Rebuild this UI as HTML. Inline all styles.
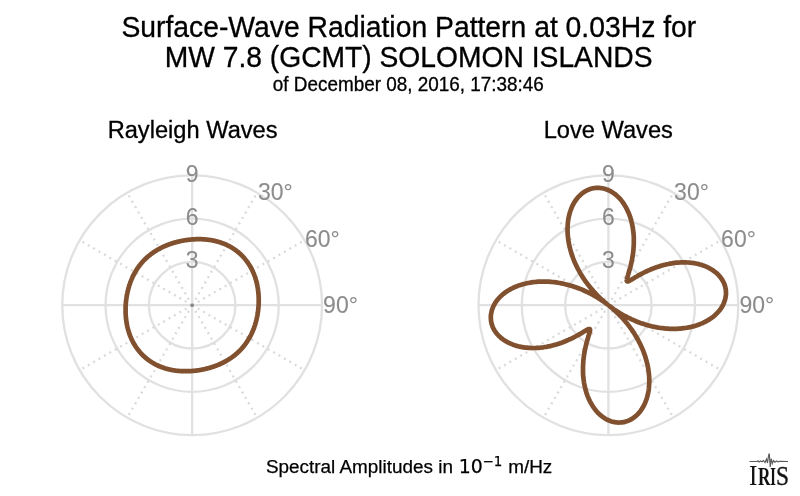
<!DOCTYPE html>
<html><head><meta charset="utf-8"><title>Surface-Wave Radiation Pattern</title>
<style>html,body{margin:0;padding:0;background:#fff}svg{display:block}</style></head>
<body>
<svg width="800" height="496" viewBox="0 0 800 496" font-family="'Liberation Sans', sans-serif">
<rect width="800" height="496" fill="#fff"/>
<g fill="#000" text-anchor="middle" stroke="#000" stroke-width="0.3">
<text transform="translate(408.8 36.5) scale(1 1.03)" font-size="28.32px">Surface-Wave Radiation Pattern at 0.03Hz for</text>
<text transform="translate(408.6 66.7) scale(1 1.045)" font-size="28.25px">MW 7.8 (GCMT) SOLOMON ISLANDS</text>
<text transform="translate(408.3 91.1) scale(1 1.03)" font-size="18.9px">of December 08, 2016, 17:38:46</text>
<text transform="translate(192.6 137.6) scale(1 1.03)" font-size="23.65px">Rayleigh Waves</text>
<text transform="translate(608.3 137.6) scale(1 1.03)" font-size="23.65px">Love Waves</text>
</g>
<g fill="none" stroke="#e1e1e1" stroke-width="2.3">
<circle cx="192.15" cy="305.2" r="43.30"/>
<circle cx="192.15" cy="305.2" r="86.60"/>
<circle cx="192.15" cy="305.2" r="129.90"/>
<line x1="192.15" y1="305.2" x2="192.15" y2="175.30"/>
<line x1="192.15" y1="305.2" x2="322.05" y2="305.20"/>
<line x1="192.15" y1="305.2" x2="192.15" y2="435.10"/>
<line x1="192.15" y1="305.2" x2="62.25" y2="305.20"/>
</g>
<g fill="none" stroke="#dadada" stroke-width="2.3" stroke-dasharray="2 4.22" stroke-dashoffset="-0.3">
<line x1="192.15" y1="305.2" x2="257.10" y2="192.70"/>
<line x1="192.15" y1="305.2" x2="304.65" y2="240.25"/>
<line x1="192.15" y1="305.2" x2="304.65" y2="370.15"/>
<line x1="192.15" y1="305.2" x2="257.10" y2="417.70"/>
<line x1="192.15" y1="305.2" x2="127.20" y2="417.70"/>
<line x1="192.15" y1="305.2" x2="79.65" y2="370.15"/>
<line x1="192.15" y1="305.2" x2="79.65" y2="240.25"/>
<line x1="192.15" y1="305.2" x2="127.20" y2="192.70"/>
</g>
<circle cx="192.15" cy="305.2" r="1.8" fill="#858585"/>
<g fill="none" stroke="#e1e1e1" stroke-width="2.3">
<circle cx="608.4" cy="305.2" r="43.30"/>
<circle cx="608.4" cy="305.2" r="86.60"/>
<circle cx="608.4" cy="305.2" r="129.90"/>
<line x1="608.4" y1="305.2" x2="608.40" y2="175.30"/>
<line x1="608.4" y1="305.2" x2="738.30" y2="305.20"/>
<line x1="608.4" y1="305.2" x2="608.40" y2="435.10"/>
<line x1="608.4" y1="305.2" x2="478.50" y2="305.20"/>
</g>
<g fill="none" stroke="#dadada" stroke-width="2.3" stroke-dasharray="2 4.22" stroke-dashoffset="-0.3">
<line x1="608.4" y1="305.2" x2="673.35" y2="192.70"/>
<line x1="608.4" y1="305.2" x2="720.90" y2="240.25"/>
<line x1="608.4" y1="305.2" x2="720.90" y2="370.15"/>
<line x1="608.4" y1="305.2" x2="673.35" y2="417.70"/>
<line x1="608.4" y1="305.2" x2="543.45" y2="417.70"/>
<line x1="608.4" y1="305.2" x2="495.90" y2="370.15"/>
<line x1="608.4" y1="305.2" x2="495.90" y2="240.25"/>
<line x1="608.4" y1="305.2" x2="543.45" y2="192.70"/>
</g>
<circle cx="608.4" cy="305.2" r="1.8" fill="#858585"/>
<path d="M192.2,239.4 L192.7,239.4 L193.3,239.3 L193.9,239.3 L194.5,239.3 L195.0,239.3 L195.6,239.2 L196.2,239.2 L196.8,239.2 L197.3,239.2 L197.9,239.2 L198.5,239.2 L199.1,239.2 L199.7,239.2 L200.3,239.2 L200.8,239.2 L201.4,239.2 L202.0,239.2 L202.6,239.3 L203.2,239.3 L203.8,239.3 L204.4,239.4 L204.9,239.4 L205.5,239.5 L206.1,239.5 L206.7,239.6 L207.3,239.6 L207.9,239.7 L208.5,239.8 L209.0,239.9 L209.6,239.9 L210.2,240.0 L210.8,240.1 L211.4,240.2 L212.0,240.3 L212.6,240.4 L213.2,240.5 L213.7,240.7 L214.3,240.8 L214.9,240.9 L215.5,241.1 L216.1,241.2 L216.7,241.4 L217.2,241.5 L217.8,241.7 L218.4,241.8 L219.0,242.0 L219.6,242.2 L220.1,242.4 L220.7,242.6 L221.3,242.8 L221.8,243.0 L222.4,243.2 L223.0,243.4 L223.5,243.6 L224.1,243.8 L224.7,244.0 L225.2,244.3 L225.8,244.5 L226.3,244.8 L226.9,245.0 L227.4,245.3 L228.0,245.6 L228.5,245.8 L229.1,246.1 L229.6,246.4 L230.1,246.7 L230.7,247.0 L231.2,247.3 L231.7,247.6 L232.2,247.9 L232.8,248.3 L233.3,248.6 L233.8,248.9 L234.3,249.3 L234.8,249.6 L235.3,250.0 L235.8,250.3 L236.3,250.7 L236.8,251.1 L237.3,251.4 L237.7,251.8 L238.2,252.2 L238.7,252.6 L239.2,253.0 L239.6,253.4 L240.1,253.8 L240.5,254.2 L241.0,254.6 L241.4,255.1 L241.8,255.5 L242.3,255.9 L242.7,256.4 L243.1,256.8 L243.5,257.3 L243.9,257.7 L244.4,258.2 L244.8,258.7 L245.1,259.1 L245.5,259.6 L245.9,260.1 L246.3,260.6 L246.7,261.1 L247.0,261.5 L247.4,262.0 L247.7,262.5 L248.1,263.0 L248.4,263.5 L248.8,264.1 L249.1,264.6 L249.4,265.1 L249.7,265.6 L250.1,266.1 L250.4,266.7 L250.7,267.2 L251.0,267.7 L251.3,268.3 L251.5,268.8 L251.8,269.3 L252.1,269.9 L252.4,270.4 L252.6,271.0 L252.9,271.5 L253.1,272.1 L253.4,272.7 L253.6,273.2 L253.8,273.8 L254.1,274.3 L254.3,274.9 L254.5,275.5 L254.7,276.0 L254.9,276.6 L255.1,277.2 L255.3,277.7 L255.5,278.3 L255.6,278.9 L255.8,279.5 L256.0,280.1 L256.2,280.6 L256.3,281.2 L256.5,281.8 L256.6,282.4 L256.8,283.0 L256.9,283.5 L257.0,284.1 L257.1,284.7 L257.3,285.3 L257.4,285.9 L257.5,286.5 L257.6,287.1 L257.7,287.6 L257.8,288.2 L257.9,288.8 L258.0,289.4 L258.0,290.0 L258.1,290.6 L258.2,291.2 L258.3,291.7 L258.3,292.3 L258.4,292.9 L258.4,293.5 L258.5,294.1 L258.5,294.7 L258.6,295.3 L258.6,295.9 L258.6,296.4 L258.7,297.0 L258.7,297.6 L258.7,298.2 L258.7,298.8 L258.7,299.4 L258.7,300.0 L258.7,300.5 L258.7,301.1 L258.7,301.7 L258.7,302.3 L258.7,302.9 L258.7,303.5 L258.7,304.0 L258.6,304.6 L258.6,305.2 L258.6,305.8 L258.5,306.4 L258.5,306.9 L258.4,307.5 L258.4,308.1 L258.3,308.7 L258.3,309.2 L258.2,309.8 L258.1,310.4 L258.1,311.0 L258.0,311.5 L257.9,312.1 L257.8,312.7 L257.7,313.3 L257.6,313.8 L257.6,314.4 L257.5,315.0 L257.3,315.5 L257.2,316.1 L257.1,316.7 L257.0,317.2 L256.9,317.8 L256.8,318.3 L256.6,318.9 L256.5,319.5 L256.4,320.0 L256.2,320.6 L256.1,321.1 L256.0,321.7 L255.8,322.3 L255.6,322.8 L255.5,323.4 L255.3,323.9 L255.2,324.5 L255.0,325.0 L254.8,325.6 L254.6,326.1 L254.4,326.6 L254.2,327.2 L254.1,327.7 L253.9,328.3 L253.7,328.8 L253.4,329.3 L253.2,329.9 L253.0,330.4 L252.8,330.9 L252.6,331.5 L252.3,332.0 L252.1,332.5 L251.9,333.0 L251.6,333.6 L251.4,334.1 L251.1,334.6 L250.9,335.1 L250.6,335.6 L250.3,336.1 L250.1,336.6 L249.8,337.2 L249.5,337.7 L249.2,338.2 L248.9,338.7 L248.6,339.1 L248.4,339.6 L248.0,340.1 L247.7,340.6 L247.4,341.1 L247.1,341.6 L246.8,342.1 L246.5,342.5 L246.1,343.0 L245.8,343.5 L245.5,343.9 L245.1,344.4 L244.8,344.9 L244.4,345.3 L244.1,345.8 L243.7,346.2 L243.4,346.7 L243.0,347.1 L242.6,347.5 L242.2,348.0 L241.9,348.4 L241.5,348.8 L241.1,349.3 L240.7,349.7 L240.3,350.1 L239.9,350.5 L239.5,350.9 L239.1,351.3 L238.7,351.7 L238.2,352.1 L237.8,352.5 L237.4,352.9 L237.0,353.3 L236.5,353.7 L236.1,354.0 L235.7,354.4 L235.2,354.8 L234.8,355.1 L234.3,355.5 L233.9,355.8 L233.4,356.2 L233.0,356.5 L232.5,356.9 L232.1,357.2 L231.6,357.5 L231.1,357.9 L230.7,358.2 L230.2,358.5 L229.7,358.8 L229.2,359.1 L228.7,359.4 L228.3,359.7 L227.8,360.0 L227.3,360.3 L226.8,360.6 L226.3,360.9 L225.8,361.2 L225.3,361.5 L224.8,361.7 L224.3,362.0 L223.8,362.3 L223.3,362.5 L222.8,362.8 L222.3,363.0 L221.7,363.3 L221.2,363.5 L220.7,363.8 L220.2,364.0 L219.7,364.2 L219.2,364.5 L218.6,364.7 L218.1,364.9 L217.6,365.1 L217.1,365.3 L216.5,365.5 L216.0,365.7 L215.5,365.9 L214.9,366.1 L214.4,366.3 L213.9,366.5 L213.3,366.7 L212.8,366.9 L212.2,367.0 L211.7,367.2 L211.2,367.4 L210.6,367.5 L210.1,367.7 L209.5,367.9 L209.0,368.0 L208.4,368.2 L207.9,368.3 L207.3,368.4 L206.8,368.6 L206.2,368.7 L205.7,368.9 L205.1,369.0 L204.6,369.1 L204.0,369.2 L203.5,369.3 L202.9,369.5 L202.3,369.6 L201.8,369.7 L201.2,369.8 L200.7,369.9 L200.1,370.0 L199.5,370.1 L199.0,370.2 L198.4,370.3 L197.8,370.3 L197.3,370.4 L196.7,370.5 L196.1,370.6 L195.6,370.6 L195.0,370.7 L194.4,370.8 L193.9,370.8 L193.3,370.9 L192.7,370.9 L192.2,371.0 L191.6,371.0 L191.0,371.1 L190.4,371.1 L189.8,371.1 L189.3,371.1 L188.7,371.2 L188.1,371.2 L187.5,371.2 L187.0,371.2 L186.4,371.2 L185.8,371.2 L185.2,371.2 L184.6,371.2 L184.0,371.2 L183.5,371.2 L182.9,371.2 L182.3,371.2 L181.7,371.1 L181.1,371.1 L180.5,371.1 L179.9,371.0 L179.4,371.0 L178.8,370.9 L178.2,370.9 L177.6,370.8 L177.0,370.8 L176.4,370.7 L175.8,370.6 L175.3,370.5 L174.7,370.5 L174.1,370.4 L173.5,370.3 L172.9,370.2 L172.3,370.1 L171.7,370.0 L171.1,369.9 L170.6,369.7 L170.0,369.6 L169.4,369.5 L168.8,369.3 L168.2,369.2 L167.6,369.0 L167.1,368.9 L166.5,368.7 L165.9,368.6 L165.3,368.4 L164.7,368.2 L164.2,368.0 L163.6,367.8 L163.0,367.6 L162.5,367.4 L161.9,367.2 L161.3,367.0 L160.8,366.8 L160.2,366.6 L159.6,366.4 L159.1,366.1 L158.5,365.9 L158.0,365.6 L157.4,365.4 L156.9,365.1 L156.3,364.8 L155.8,364.6 L155.2,364.3 L154.7,364.0 L154.2,363.7 L153.6,363.4 L153.1,363.1 L152.6,362.8 L152.1,362.5 L151.5,362.1 L151.0,361.8 L150.5,361.5 L150.0,361.1 L149.5,360.8 L149.0,360.4 L148.5,360.1 L148.0,359.7 L147.5,359.3 L147.0,359.0 L146.6,358.6 L146.1,358.2 L145.6,357.8 L145.1,357.4 L144.7,357.0 L144.2,356.6 L143.8,356.2 L143.3,355.8 L142.9,355.3 L142.5,354.9 L142.0,354.5 L141.6,354.0 L141.2,353.6 L140.8,353.1 L140.4,352.7 L139.9,352.2 L139.5,351.7 L139.2,351.3 L138.8,350.8 L138.4,350.3 L138.0,349.8 L137.6,349.3 L137.3,348.9 L136.9,348.4 L136.6,347.9 L136.2,347.4 L135.9,346.9 L135.5,346.3 L135.2,345.8 L134.9,345.3 L134.6,344.8 L134.2,344.3 L133.9,343.7 L133.6,343.2 L133.3,342.7 L133.0,342.1 L132.8,341.6 L132.5,341.1 L132.2,340.5 L131.9,340.0 L131.7,339.4 L131.4,338.9 L131.2,338.3 L130.9,337.7 L130.7,337.2 L130.5,336.6 L130.2,336.1 L130.0,335.5 L129.8,334.9 L129.6,334.4 L129.4,333.8 L129.2,333.2 L129.0,332.7 L128.8,332.1 L128.7,331.5 L128.5,330.9 L128.3,330.3 L128.1,329.8 L128.0,329.2 L127.8,328.6 L127.7,328.0 L127.5,327.4 L127.4,326.9 L127.3,326.3 L127.2,325.7 L127.0,325.1 L126.9,324.5 L126.8,323.9 L126.7,323.3 L126.6,322.8 L126.5,322.2 L126.4,321.6 L126.3,321.0 L126.3,320.4 L126.2,319.8 L126.1,319.2 L126.0,318.7 L126.0,318.1 L125.9,317.5 L125.9,316.9 L125.8,316.3 L125.8,315.7 L125.7,315.1 L125.7,314.5 L125.7,314.0 L125.6,313.4 L125.6,312.8 L125.6,312.2 L125.6,311.6 L125.6,311.0 L125.6,310.4 L125.6,309.9 L125.6,309.3 L125.6,308.7 L125.6,308.1 L125.6,307.5 L125.6,306.9 L125.6,306.4 L125.7,305.8 L125.7,305.2 L125.7,304.6 L125.8,304.0 L125.8,303.5 L125.9,302.9 L125.9,302.3 L126.0,301.7 L126.0,301.2 L126.1,300.6 L126.2,300.0 L126.2,299.4 L126.3,298.9 L126.4,298.3 L126.5,297.7 L126.6,297.1 L126.7,296.6 L126.7,296.0 L126.8,295.4 L127.0,294.9 L127.1,294.3 L127.2,293.7 L127.3,293.2 L127.4,292.6 L127.5,292.1 L127.7,291.5 L127.8,290.9 L127.9,290.4 L128.1,289.8 L128.2,289.3 L128.3,288.7 L128.5,288.1 L128.7,287.6 L128.8,287.0 L129.0,286.5 L129.1,285.9 L129.3,285.4 L129.5,284.8 L129.7,284.3 L129.9,283.8 L130.1,283.2 L130.2,282.7 L130.4,282.1 L130.6,281.6 L130.9,281.1 L131.1,280.5 L131.3,280.0 L131.5,279.5 L131.7,278.9 L132.0,278.4 L132.2,277.9 L132.4,277.4 L132.7,276.8 L132.9,276.3 L133.2,275.8 L133.4,275.3 L133.7,274.8 L134.0,274.3 L134.2,273.8 L134.5,273.2 L134.8,272.7 L135.1,272.2 L135.4,271.7 L135.7,271.3 L135.9,270.8 L136.3,270.3 L136.6,269.8 L136.9,269.3 L137.2,268.8 L137.5,268.3 L137.8,267.9 L138.2,267.4 L138.5,266.9 L138.8,266.5 L139.2,266.0 L139.5,265.5 L139.9,265.1 L140.2,264.6 L140.6,264.2 L140.9,263.7 L141.3,263.3 L141.7,262.9 L142.1,262.4 L142.4,262.0 L142.8,261.6 L143.2,261.1 L143.6,260.7 L144.0,260.3 L144.4,259.9 L144.8,259.5 L145.2,259.1 L145.6,258.7 L146.1,258.3 L146.5,257.9 L146.9,257.5 L147.3,257.1 L147.8,256.7 L148.2,256.4 L148.6,256.0 L149.1,255.6 L149.5,255.3 L150.0,254.9 L150.4,254.6 L150.9,254.2 L151.3,253.9 L151.8,253.5 L152.2,253.2 L152.7,252.9 L153.2,252.5 L153.6,252.2 L154.1,251.9 L154.6,251.6 L155.1,251.3 L155.6,251.0 L156.0,250.7 L156.5,250.4 L157.0,250.1 L157.5,249.8 L158.0,249.5 L158.5,249.2 L159.0,248.9 L159.5,248.7 L160.0,248.4 L160.5,248.1 L161.0,247.9 L161.5,247.6 L162.0,247.4 L162.6,247.1 L163.1,246.9 L163.6,246.6 L164.1,246.4 L164.6,246.2 L165.1,245.9 L165.7,245.7 L166.2,245.5 L166.7,245.3 L167.2,245.1 L167.8,244.9 L168.3,244.7 L168.8,244.5 L169.4,244.3 L169.9,244.1 L170.4,243.9 L171.0,243.7 L171.5,243.5 L172.1,243.4 L172.6,243.2 L173.1,243.0 L173.7,242.9 L174.2,242.7 L174.8,242.5 L175.3,242.4 L175.9,242.2 L176.4,242.1 L177.0,242.0 L177.5,241.8 L178.1,241.7 L178.6,241.5 L179.2,241.4 L179.7,241.3 L180.3,241.2 L180.8,241.1 L181.4,240.9 L182.0,240.8 L182.5,240.7 L183.1,240.6 L183.6,240.5 L184.2,240.4 L184.8,240.3 L185.3,240.2 L185.9,240.1 L186.5,240.1 L187.0,240.0 L187.6,239.9 L188.2,239.8 L188.7,239.8 L189.3,239.7 L189.9,239.6 L190.4,239.6 L191.0,239.5 L191.6,239.5Z" fill="none" stroke="#80502f" stroke-width="4.7" stroke-linejoin="round"/>
<path d="M608.4,190.2 L609.4,190.6 L610.4,191.1 L611.4,191.7 L612.3,192.3 L613.3,192.9 L614.2,193.6 L615.2,194.3 L616.1,195.1 L617.0,195.8 L617.9,196.7 L618.8,197.5 L619.6,198.4 L620.5,199.4 L621.3,200.4 L622.1,201.4 L622.8,202.4 L623.6,203.5 L624.3,204.6 L625.0,205.8 L625.7,206.9 L626.4,208.2 L627.0,209.4 L627.6,210.7 L628.2,212.0 L628.8,213.3 L629.3,214.6 L629.8,216.0 L630.3,217.4 L630.7,218.8 L631.2,220.3 L631.5,221.8 L631.9,223.2 L632.2,224.8 L632.5,226.3 L632.8,227.8 L633.0,229.4 L633.2,230.9 L633.4,232.5 L633.6,234.1 L633.7,235.7 L633.8,237.3 L633.8,239.0 L633.8,240.6 L633.8,242.2 L633.8,243.9 L633.7,245.5 L633.6,247.1 L633.5,248.8 L633.4,250.4 L633.2,252.0 L633.0,253.6 L632.8,255.2 L632.5,256.8 L632.2,258.4 L632.0,260.0 L631.6,261.5 L631.3,263.0 L631.0,264.5 L630.6,265.9 L630.3,267.3 L629.9,268.7 L629.5,270.1 L629.1,271.3 L628.8,272.6 L628.4,273.8 L628.1,274.9 L627.8,275.9 L627.5,276.9 L627.2,277.8 L627.0,278.6 L626.9,279.3 L626.8,279.9 L626.7,280.4 L626.8,280.8 L626.9,281.1 L627.0,281.3 L627.3,281.4 L627.6,281.4 L628.1,281.4 L628.6,281.2 L629.2,280.9 L629.8,280.6 L630.6,280.1 L631.4,279.7 L632.3,279.1 L633.2,278.6 L634.2,278.0 L635.3,277.3 L636.4,276.7 L637.6,276.0 L638.8,275.3 L640.1,274.6 L641.4,273.9 L642.7,273.2 L644.0,272.5 L645.4,271.8 L646.9,271.2 L648.3,270.5 L649.8,269.9 L651.3,269.2 L652.8,268.6 L654.3,268.0 L655.8,267.5 L657.4,266.9 L658.9,266.4 L660.5,265.9 L662.1,265.5 L663.6,265.1 L665.2,264.7 L666.8,264.3 L668.4,264.0 L670.0,263.6 L671.6,263.4 L673.2,263.1 L674.8,262.9 L676.3,262.7 L677.9,262.6 L679.5,262.5 L681.0,262.4 L682.6,262.4 L684.1,262.4 L685.6,262.4 L687.1,262.5 L688.6,262.5 L690.1,262.7 L691.6,262.8 L693.0,263.0 L694.4,263.2 L695.8,263.5 L697.2,263.8 L698.6,264.1 L699.9,264.5 L701.2,264.8 L702.5,265.3 L703.8,265.7 L705.0,266.2 L706.2,266.7 L707.4,267.2 L708.5,267.8 L709.6,268.4 L710.7,269.0 L711.8,269.6 L712.8,270.3 L713.8,271.0 L714.7,271.7 L715.7,272.4 L716.5,273.2 L717.4,273.9 L718.2,274.7 L719.0,275.6 L719.7,276.4 L720.4,277.3 L721.1,278.2 L721.7,279.0 L722.3,280.0 L722.8,280.9 L723.3,281.8 L723.8,282.8 L724.2,283.7 L724.5,284.7 L724.9,285.7 L725.2,286.7 L725.4,287.7 L725.6,288.7 L725.8,289.7 L725.9,290.8 L725.9,291.8 L726.0,292.8 L726.0,293.9 L725.9,294.9 L725.8,296.0 L725.6,297.0 L725.4,298.0 L725.2,299.1 L724.9,300.1 L724.6,301.1 L724.2,302.2 L723.8,303.2 L723.4,304.2 L722.9,305.2 L722.3,306.2 L721.8,307.2 L721.1,308.2 L720.5,309.1 L719.8,310.1 L719.0,311.0 L718.2,311.9 L717.4,312.8 L716.5,313.7 L715.6,314.6 L714.7,315.4 L713.7,316.3 L712.7,317.1 L711.6,317.9 L710.5,318.6 L709.4,319.4 L708.2,320.1 L707.0,320.8 L705.8,321.5 L704.5,322.1 L703.2,322.8 L701.9,323.4 L700.5,323.9 L699.1,324.5 L697.7,325.0 L696.2,325.5 L694.7,325.9 L693.2,326.4 L691.7,326.7 L690.1,327.1 L688.6,327.4 L687.0,327.7 L685.3,328.0 L683.7,328.2 L682.0,328.4 L680.3,328.6 L678.6,328.7 L676.9,328.8 L675.1,328.8 L673.4,328.9 L671.6,328.8 L669.8,328.8 L668.0,328.7 L666.2,328.6 L664.4,328.4 L662.6,328.2 L660.7,328.0 L658.9,327.7 L657.0,327.4 L655.2,327.0 L653.3,326.6 L651.5,326.2 L649.6,325.7 L647.7,325.2 L645.9,324.7 L644.0,324.1 L642.1,323.5 L640.3,322.9 L638.4,322.2 L636.6,321.5 L634.7,320.7 L632.9,319.9 L631.1,319.1 L629.3,318.2 L627.5,317.4 L625.7,316.4 L623.9,315.5 L622.2,314.5 L620.4,313.5 L618.7,312.4 L617.0,311.3 L615.3,310.2 L613.6,309.1 L612.1,308.0 L610.6,306.9 L609.7,306.2 L610.3,306.7 L611.7,307.8 L613.1,309.1 L614.6,310.4 L616.1,311.8 L617.6,313.2 L619.0,314.6 L620.4,316.0 L621.8,317.5 L623.2,319.0 L624.5,320.5 L625.8,322.0 L627.1,323.6 L628.3,325.1 L629.5,326.7 L630.7,328.3 L631.9,329.9 L633.0,331.6 L634.1,333.2 L635.1,334.9 L636.1,336.5 L637.1,338.2 L638.0,339.9 L638.9,341.6 L639.8,343.3 L640.6,345.0 L641.4,346.7 L642.2,348.4 L642.9,350.1 L643.6,351.9 L644.2,353.6 L644.8,355.3 L645.4,357.0 L645.9,358.8 L646.4,360.5 L646.8,362.2 L647.3,363.9 L647.6,365.6 L648.0,367.3 L648.3,369.0 L648.5,370.7 L648.7,372.3 L648.9,374.0 L649.1,375.6 L649.2,377.2 L649.2,378.9 L649.3,380.5 L649.3,382.0 L649.2,383.6 L649.1,385.1 L649.0,386.7 L648.9,388.2 L648.7,389.7 L648.5,391.1 L648.2,392.6 L647.9,394.0 L647.6,395.4 L647.2,396.7 L646.9,398.1 L646.4,399.4 L646.0,400.6 L645.5,401.9 L645.0,403.1 L644.5,404.3 L643.9,405.5 L643.3,406.6 L642.7,407.7 L642.0,408.7 L641.4,409.7 L640.7,410.7 L639.9,411.7 L639.2,412.6 L638.4,413.5 L637.6,414.3 L636.8,415.1 L636.0,415.9 L635.1,416.6 L634.3,417.3 L633.4,417.9 L632.5,418.5 L631.6,419.1 L630.6,419.6 L629.7,420.1 L628.7,420.5 L627.8,420.9 L626.8,421.3 L625.8,421.6 L624.8,421.9 L623.8,422.1 L622.8,422.3 L621.8,422.4 L620.7,422.5 L619.7,422.5 L618.7,422.6 L617.6,422.5 L616.6,422.4 L615.6,422.3 L614.5,422.1 L613.5,421.9 L612.5,421.7 L611.4,421.4 L610.4,421.0 L609.4,420.7 L608.4,420.2 L607.4,419.8 L606.4,419.3 L605.4,418.7 L604.5,418.1 L603.5,417.5 L602.6,416.8 L601.6,416.1 L600.7,415.3 L599.8,414.6 L598.9,413.7 L598.0,412.9 L597.2,412.0 L596.3,411.0 L595.5,410.0 L594.7,409.0 L594.0,408.0 L593.2,406.9 L592.5,405.8 L591.8,404.6 L591.1,403.5 L590.4,402.2 L589.8,401.0 L589.2,399.7 L588.6,398.4 L588.0,397.1 L587.5,395.8 L587.0,394.4 L586.5,393.0 L586.1,391.6 L585.6,390.1 L585.3,388.6 L584.9,387.2 L584.6,385.6 L584.3,384.1 L584.0,382.6 L583.8,381.0 L583.6,379.5 L583.4,377.9 L583.2,376.3 L583.1,374.7 L583.0,373.1 L583.0,371.4 L583.0,369.8 L583.0,368.2 L583.0,366.5 L583.1,364.9 L583.2,363.3 L583.3,361.6 L583.4,360.0 L583.6,358.4 L583.8,356.8 L584.0,355.2 L584.3,353.6 L584.6,352.0 L584.8,350.4 L585.2,348.9 L585.5,347.4 L585.8,345.9 L586.2,344.5 L586.5,343.1 L586.9,341.7 L587.3,340.3 L587.7,339.1 L588.0,337.8 L588.4,336.6 L588.7,335.5 L589.0,334.5 L589.3,333.5 L589.6,332.6 L589.8,331.8 L589.9,331.1 L590.0,330.5 L590.1,330.0 L590.0,329.6 L589.9,329.3 L589.8,329.1 L589.5,329.0 L589.2,329.0 L588.7,329.0 L588.2,329.2 L587.6,329.5 L587.0,329.8 L586.2,330.3 L585.4,330.7 L584.5,331.3 L583.6,331.8 L582.6,332.4 L581.5,333.1 L580.4,333.7 L579.2,334.4 L578.0,335.1 L576.7,335.8 L575.4,336.5 L574.1,337.2 L572.8,337.9 L571.4,338.6 L569.9,339.2 L568.5,339.9 L567.0,340.5 L565.5,341.2 L564.0,341.8 L562.5,342.4 L561.0,342.9 L559.4,343.5 L557.9,344.0 L556.3,344.5 L554.7,344.9 L553.2,345.3 L551.6,345.7 L550.0,346.1 L548.4,346.4 L546.8,346.8 L545.2,347.0 L543.6,347.3 L542.0,347.5 L540.5,347.7 L538.9,347.8 L537.3,347.9 L535.8,348.0 L534.2,348.0 L532.7,348.0 L531.2,348.0 L529.7,347.9 L528.2,347.9 L526.7,347.7 L525.2,347.6 L523.8,347.4 L522.4,347.2 L521.0,346.9 L519.6,346.6 L518.2,346.3 L516.9,345.9 L515.6,345.6 L514.3,345.1 L513.0,344.7 L511.8,344.2 L510.6,343.7 L509.4,343.2 L508.3,342.6 L507.2,342.0 L506.1,341.4 L505.0,340.8 L504.0,340.1 L503.0,339.4 L502.1,338.7 L501.1,338.0 L500.3,337.2 L499.4,336.5 L498.6,335.7 L497.8,334.8 L497.1,334.0 L496.4,333.1 L495.7,332.2 L495.1,331.4 L494.5,330.4 L494.0,329.5 L493.5,328.6 L493.0,327.6 L492.6,326.7 L492.3,325.7 L491.9,324.7 L491.6,323.7 L491.4,322.7 L491.2,321.7 L491.0,320.7 L490.9,319.6 L490.9,318.6 L490.8,317.6 L490.8,316.5 L490.9,315.5 L491.0,314.4 L491.2,313.4 L491.4,312.4 L491.6,311.3 L491.9,310.3 L492.2,309.3 L492.6,308.2 L493.0,307.2 L493.4,306.2 L493.9,305.2 L494.5,304.2 L495.0,303.2 L495.7,302.2 L496.3,301.3 L497.0,300.3 L497.8,299.4 L498.6,298.5 L499.4,297.6 L500.3,296.7 L501.2,295.8 L502.1,295.0 L503.1,294.1 L504.1,293.3 L505.2,292.5 L506.3,291.8 L507.4,291.0 L508.6,290.3 L509.8,289.6 L511.0,288.9 L512.3,288.3 L513.6,287.6 L514.9,287.0 L516.3,286.5 L517.7,285.9 L519.1,285.4 L520.6,284.9 L522.1,284.5 L523.6,284.0 L525.1,283.7 L526.7,283.3 L528.2,283.0 L529.8,282.7 L531.5,282.4 L533.1,282.2 L534.8,282.0 L536.5,281.8 L538.2,281.7 L539.9,281.6 L541.7,281.6 L543.4,281.5 L545.2,281.6 L547.0,281.6 L548.8,281.7 L550.6,281.8 L552.4,282.0 L554.2,282.2 L556.1,282.4 L557.9,282.7 L559.8,283.0 L561.6,283.4 L563.5,283.8 L565.3,284.2 L567.2,284.7 L569.1,285.2 L570.9,285.7 L572.8,286.3 L574.7,286.9 L576.5,287.5 L578.4,288.2 L580.2,288.9 L582.1,289.7 L583.9,290.5 L585.7,291.3 L587.5,292.2 L589.3,293.0 L591.1,294.0 L592.9,294.9 L594.6,295.9 L596.4,296.9 L598.1,298.0 L599.8,299.1 L601.5,300.2 L603.2,301.3 L604.7,302.4 L606.2,303.5 L607.1,304.2 L606.5,303.7 L605.1,302.6 L603.7,301.3 L602.2,300.0 L600.7,298.6 L599.2,297.2 L597.8,295.8 L596.4,294.4 L595.0,292.9 L593.6,291.4 L592.3,289.9 L591.0,288.4 L589.7,286.8 L588.5,285.3 L587.3,283.7 L586.1,282.1 L584.9,280.5 L583.8,278.8 L582.7,277.2 L581.7,275.5 L580.7,273.9 L579.7,272.2 L578.8,270.5 L577.9,268.8 L577.0,267.1 L576.2,265.4 L575.4,263.7 L574.6,262.0 L573.9,260.3 L573.2,258.5 L572.6,256.8 L572.0,255.1 L571.4,253.4 L570.9,251.6 L570.4,249.9 L570.0,248.2 L569.5,246.5 L569.2,244.8 L568.8,243.1 L568.5,241.4 L568.3,239.7 L568.1,238.1 L567.9,236.4 L567.7,234.8 L567.6,233.2 L567.6,231.5 L567.5,229.9 L567.5,228.4 L567.6,226.8 L567.7,225.3 L567.8,223.7 L567.9,222.2 L568.1,220.7 L568.3,219.3 L568.6,217.8 L568.9,216.4 L569.2,215.0 L569.6,213.7 L569.9,212.3 L570.4,211.0 L570.8,209.8 L571.3,208.5 L571.8,207.3 L572.3,206.1 L572.9,204.9 L573.5,203.8 L574.1,202.7 L574.8,201.7 L575.4,200.7 L576.1,199.7 L576.9,198.7 L577.6,197.8 L578.4,196.9 L579.2,196.1 L580.0,195.3 L580.8,194.5 L581.7,193.8 L582.5,193.1 L583.4,192.5 L584.3,191.9 L585.2,191.3 L586.2,190.8 L587.1,190.3 L588.1,189.9 L589.0,189.5 L590.0,189.1 L591.0,188.8 L592.0,188.5 L593.0,188.3 L594.0,188.1 L595.0,188.0 L596.1,187.9 L597.1,187.9 L598.1,187.8 L599.2,187.9 L600.2,188.0 L601.2,188.1 L602.3,188.3 L603.3,188.5 L604.3,188.7 L605.4,189.0 L606.4,189.4 L607.4,189.7Z" fill="none" stroke="#80502f" stroke-width="4.7" stroke-linejoin="round"/>
<g fill="#8c8c8c" font-size="23px" stroke="#8c8c8c" stroke-width="0.1">
<text x="192.2" y="268.3" text-anchor="middle">3</text>
<text x="192.2" y="225.0" text-anchor="middle">6</text>
<text x="192.2" y="181.7" text-anchor="middle">9</text>
<text x="257.9" y="199.5">30°</text>
<text x="304.9" y="247.2">60°</text>
<text x="323.1" y="312.5">90°</text>
</g>
<g fill="#8c8c8c" font-size="23px" stroke="#8c8c8c" stroke-width="0.1">
<text x="608.4" y="268.3" text-anchor="middle">3</text>
<text x="608.4" y="225.0" text-anchor="middle">6</text>
<text x="608.4" y="181.7" text-anchor="middle">9</text>
<text x="674.1" y="199.5">30°</text>
<text x="721.1" y="247.2">60°</text>
<text x="739.4" y="312.5">90°</text>
</g>
<g fill="#000" font-size="18.9px" stroke="#000" stroke-width="0.25"><text x="266.0" y="472.7">Spectral Amplitudes in</text><text x="508.2" y="472.7">m/Hz</text><g font-family="'DejaVu Sans', sans-serif"><text x="458.7" y="472.7">10</text><text x="482.6" y="466.1" font-size="13.4px">−1</text></g></g>
<g>
<path d="M749.5 461.5 L757 461.5 L758 460.8 L759 462 L760.5 461 L762 461.8 L763.5 460.5 L765 462.5 L766.5 459 L767.5 463 L768.5 456 L769.3 453.5 L770.2 467 L771.2 458.5 L772.3 463.5 L773.5 460.5 L775 462.2 L776.5 461 L778 461.9 L780 461.3 L788 461.5" fill="none" stroke="#5a5a5a" stroke-width="1.15"/>
<g font-family="'Liberation Serif', serif" fill="#111">
<text x="749.0" y="484.5" font-size="29.8px" textLength="8.4" lengthAdjust="spacingAndGlyphs">I</text>
<g font-weight="bold"><text x="758.0" y="484.6" font-size="25.8px" textLength="12.4" lengthAdjust="spacingAndGlyphs">R</text>
<text x="770.3" y="484.6" font-size="25.8px" textLength="5.6" lengthAdjust="spacingAndGlyphs">I</text>
</g><text x="776.0" y="484.7" font-size="27.6px" textLength="13.0" lengthAdjust="spacingAndGlyphs" stroke="#111" stroke-width="0.35">S</text>
</g></g>
</svg>
</body></html>
